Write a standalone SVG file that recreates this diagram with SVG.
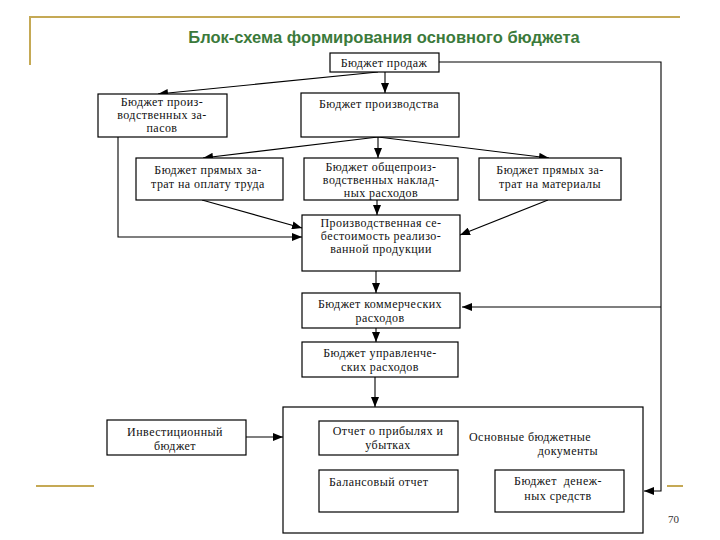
<svg xmlns="http://www.w3.org/2000/svg" width="720" height="540" viewBox="0 0 720 540">
<defs>
<marker id="ah" viewBox="0 0 10 8" refX="10" refY="4" markerWidth="10" markerHeight="8" markerUnits="userSpaceOnUse" orient="auto">
<path d="M0,0 L10,4 L0,8 Z" fill="#000"/>
</marker>
<style>
.box{fill:#fff;stroke:#000;stroke-width:1.2}
.t{font-family:'Liberation Serif','DejaVu Serif',serif;font-size:12px;letter-spacing:0.45px;fill:#111}
.c{text-anchor:middle}
.con{fill:none;stroke:#000;stroke-width:1.1}
.arr{marker-end:url(#ah)}
.gold{stroke:#c5a955;stroke-width:2;fill:none}
</style>
</defs>
<rect x="0" y="0" width="720" height="540" fill="#fff"/>
<g id="frame">
<path class="gold" d="M30,65 V17 H680"/>
<path class="gold" d="M36,486 H94"/>
<path class="gold" d="M667,486 H683"/>
</g>
<text x="384" y="43" text-anchor="middle" font-family="Liberation Sans,Arial,sans-serif" font-weight="bold" font-size="16.5" fill="#3b7a3b">Блок-схема формирования основного бюджета</text>
<g id="connectors">
<line class="con arr" x1="378" y1="72" x2="158" y2="94"/>
<line class="con arr" x1="385" y1="72" x2="385" y2="93"/>
<polyline class="con arr" points="439,62 661,62 661,491 644,491"/>
<line class="con arr" x1="661" y1="307" x2="462" y2="307"/>
<line class="con arr" x1="378" y1="137" x2="203" y2="158"/>
<line class="con arr" x1="378" y1="137" x2="378" y2="158"/>
<line class="con arr" x1="378" y1="137" x2="549" y2="158"/>
<line class="con arr" x1="202" y1="200" x2="302" y2="228"/>
<line class="con arr" x1="377" y1="200" x2="377" y2="215"/>
<line class="con arr" x1="548" y1="200" x2="460" y2="235"/>
<polyline class="con arr" points="118,137 118,237 302,237"/>
<line class="con arr" x1="376" y1="271" x2="376" y2="293"/>
<line class="con arr" x1="376" y1="328" x2="376" y2="342"/>
<line class="con arr" x1="375" y1="377" x2="375" y2="407"/>
<line class="con arr" x1="246" y1="437" x2="283" y2="437"/>
<line class="con arr" x1="385" y1="455" x2="385" y2="470"/>
<line class="con arr" x1="495" y1="491" x2="458" y2="491"/>
</g>
<g id="sales"><rect class="box" x="330" y="53" width="109" height="19"/><text class="t c" x="384" y="67">Бюджет продаж</text></g>
<g id="stock"><rect class="box" x="98" y="94" width="129" height="43"/><text class="t c" x="162" y="106">Бюджет произ-</text><text class="t c" x="162" y="119">водственных за-</text><text class="t c" x="162" y="132">пасов</text></g>
<g id="production"><rect class="box" x="301" y="93" width="158" height="44"/><text class="t c" x="379" y="108">Бюджет производства</text></g>
<g id="labor"><rect class="box" x="136" y="158" width="147" height="42"/><text class="t c" x="208" y="174">Бюджет прямых за-</text><text class="t c" x="208" y="188">трат на оплату труда</text></g>
<g id="overhead"><rect class="box" x="304" y="158" width="154" height="42"/><text class="t c" x="381" y="171">Бюджет общепроиз-</text><text class="t c" x="381" y="184">водственных наклад-</text><text class="t c" x="381" y="197">ных расходов</text></g>
<g id="materials"><rect class="box" x="479" y="158" width="142" height="42"/><text class="t c" x="550" y="174">Бюджет прямых за-</text><text class="t c" x="550" y="188">трат на материалы</text></g>
<g id="cost"><rect class="box" x="302" y="215" width="158" height="56"/><text class="t c" x="381" y="227">Производственная се-</text><text class="t c" x="381" y="240">бестоимость реализо-</text><text class="t c" x="381" y="253">ванной продукции</text></g>
<g id="commercial"><rect class="box" x="302" y="293" width="158" height="35"/><text class="t c" x="380" y="308">Бюджет коммерческих</text><text class="t c" x="380" y="322">расходов</text></g>
<g id="admin"><rect class="box" x="302" y="342" width="156" height="35"/><text class="t c" x="380" y="357">Бюджет управленче-</text><text class="t c" x="380" y="371">ских расходов</text></g>
<g id="main-docs"><rect class="box" x="283" y="407" width="360" height="126"/><text class="t" x="469" y="441">Основные бюджетные</text><text class="t" x="598" y="455" text-anchor="end">документы</text></g>
<g id="investment"><rect class="box" x="107" y="420" width="139" height="35"/><text class="t c" x="175" y="436">Инвестиционный</text><text class="t c" x="175" y="450">бюджет</text></g>
<g id="pnl"><rect class="box" x="319" y="421" width="139" height="34"/><text class="t c" x="388" y="435">Отчет о прибылях и</text><text class="t c" x="388" y="449">убытках</text></g>
<g id="balance"><rect class="box" x="319" y="470" width="139" height="42"/><text class="t" x="329" y="486">Балансовый отчет</text></g>
<g id="cash"><rect class="box" x="495" y="470" width="129" height="42"/><text class="t c" x="558" y="485" xml:space="preserve">Бюджет  денеж-</text><text class="t c" x="558" y="500">ных средств</text></g>
<text x="668" y="523" font-family="Liberation Serif,serif" font-size="11" fill="#333">70</text>
</svg>
